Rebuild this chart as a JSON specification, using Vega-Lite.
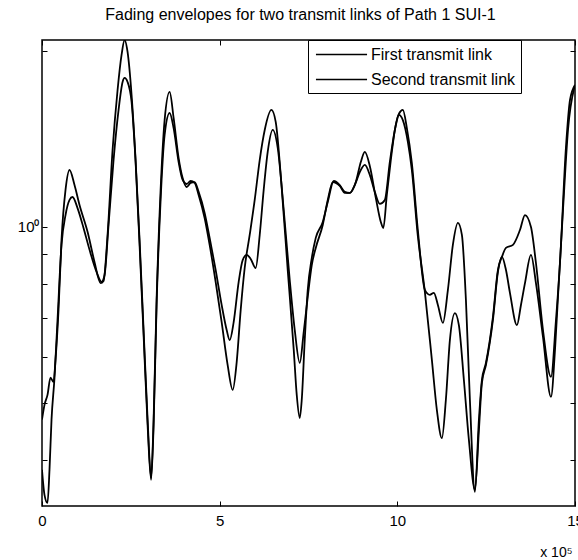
{
  "$schema": "https://vega.github.io/schema/vega-lite/v6.json",
  "width": 533,
  "height": 466,
  "autosize": {"type": "none"},
  "padding": {"left": 42, "top": 40, "right": 3, "bottom": 54},
  "background": "white",
  "config": {
    "font": "Liberation Sans",
    "view": {"stroke": "black", "strokeWidth": 1.5},
    "axis": {"grid": false, "domain": false, "tickColor": "black", "labelColor": "black", "titleColor": "black", "labelFont": "Liberation Sans", "titleFont": "Liberation Sans"}
  },
  "title": {
    "text": "Fading envelopes for two transmit links of Path 1 SUI-1",
    "fontSize": 16,
    "fontWeight": "normal",
    "font": "Liberation Sans",
    "color": "black",
    "offset": 17,
    "dx": -8
  },
  "data": {
    "values": [
      {"link": "First transmit link", "t": 0.000, "env": 0.469},
      {"link": "First transmit link", "t": 0.070, "env": 0.497},
      {"link": "First transmit link", "t": 0.155, "env": 0.517},
      {"link": "First transmit link", "t": 0.239, "env": 0.553},
      {"link": "First transmit link", "t": 0.324, "env": 0.544},
      {"link": "First transmit link", "t": 0.380, "env": 0.593},
      {"link": "First transmit link", "t": 0.465, "env": 0.722},
      {"link": "First transmit link", "t": 0.549, "env": 0.950},
      {"link": "First transmit link", "t": 0.662, "env": 1.157},
      {"link": "First transmit link", "t": 0.775, "env": 1.251},
      {"link": "First transmit link", "t": 0.915, "env": 1.179},
      {"link": "First transmit link", "t": 1.056, "env": 1.090},
      {"link": "First transmit link", "t": 1.282, "env": 0.981},
      {"link": "First transmit link", "t": 1.479, "env": 0.871},
      {"link": "First transmit link", "t": 1.648, "env": 0.802},
      {"link": "First transmit link", "t": 1.732, "env": 0.809},
      {"link": "First transmit link", "t": 1.845, "env": 0.969},
      {"link": "First transmit link", "t": 1.986, "env": 1.353},
      {"link": "First transmit link", "t": 2.127, "env": 1.713},
      {"link": "First transmit link", "t": 2.239, "env": 1.966},
      {"link": "First transmit link", "t": 2.324, "env": 2.085},
      {"link": "First transmit link", "t": 2.408, "env": 1.989},
      {"link": "First transmit link", "t": 2.521, "env": 1.680},
      {"link": "First transmit link", "t": 2.634, "env": 1.301},
      {"link": "First transmit link", "t": 2.746, "env": 0.950},
      {"link": "First transmit link", "t": 2.859, "env": 0.667},
      {"link": "First transmit link", "t": 2.972, "env": 0.469},
      {"link": "First transmit link", "t": 3.070, "env": 0.373},
      {"link": "First transmit link", "t": 3.141, "env": 0.469},
      {"link": "First transmit link", "t": 3.225, "env": 0.751},
      {"link": "First transmit link", "t": 3.338, "env": 1.157},
      {"link": "First transmit link", "t": 3.451, "env": 1.522},
      {"link": "First transmit link", "t": 3.592, "env": 1.700},
      {"link": "First transmit link", "t": 3.704, "env": 1.535},
      {"link": "First transmit link", "t": 3.845, "env": 1.311},
      {"link": "First transmit link", "t": 3.958, "env": 1.212},
      {"link": "First transmit link", "t": 4.070, "env": 1.170},
      {"link": "First transmit link", "t": 4.183, "env": 1.189},
      {"link": "First transmit link", "t": 4.296, "env": 1.193},
      {"link": "First transmit link", "t": 4.408, "env": 1.148},
      {"link": "First transmit link", "t": 4.577, "env": 1.057},
      {"link": "First transmit link", "t": 4.718, "env": 0.958},
      {"link": "First transmit link", "t": 4.887, "env": 0.845},
      {"link": "First transmit link", "t": 5.056, "env": 0.736},
      {"link": "First transmit link", "t": 5.197, "env": 0.667},
      {"link": "First transmit link", "t": 5.282, "env": 0.641},
      {"link": "First transmit link", "t": 5.394, "env": 0.688},
      {"link": "First transmit link", "t": 5.535, "env": 0.806},
      {"link": "First transmit link", "t": 5.648, "env": 0.878},
      {"link": "First transmit link", "t": 5.761, "env": 0.896},
      {"link": "First transmit link", "t": 5.873, "env": 0.882},
      {"link": "First transmit link", "t": 6.014, "env": 0.851},
      {"link": "First transmit link", "t": 6.127, "env": 0.969},
      {"link": "First transmit link", "t": 6.239, "env": 1.157},
      {"link": "First transmit link", "t": 6.352, "env": 1.343},
      {"link": "First transmit link", "t": 6.493, "env": 1.464},
      {"link": "First transmit link", "t": 6.634, "env": 1.364},
      {"link": "First transmit link", "t": 6.803, "env": 1.069},
      {"link": "First transmit link", "t": 6.972, "env": 0.812},
      {"link": "First transmit link", "t": 7.113, "env": 0.667},
      {"link": "First transmit link", "t": 7.254, "env": 0.586},
      {"link": "First transmit link", "t": 7.366, "env": 0.662},
      {"link": "First transmit link", "t": 7.479, "env": 0.760},
      {"link": "First transmit link", "t": 7.592, "env": 0.861},
      {"link": "First transmit link", "t": 7.704, "env": 0.921},
      {"link": "First transmit link", "t": 7.901, "env": 1.008},
      {"link": "First transmit link", "t": 8.042, "env": 1.112},
      {"link": "First transmit link", "t": 8.183, "env": 1.193},
      {"link": "First transmit link", "t": 8.380, "env": 1.175},
      {"link": "First transmit link", "t": 8.521, "env": 1.143},
      {"link": "First transmit link", "t": 8.662, "env": 1.143},
      {"link": "First transmit link", "t": 8.803, "env": 1.179},
      {"link": "First transmit link", "t": 8.944, "env": 1.241},
      {"link": "First transmit link", "t": 9.085, "env": 1.276},
      {"link": "First transmit link", "t": 9.225, "env": 1.227},
      {"link": "First transmit link", "t": 9.366, "env": 1.148},
      {"link": "First transmit link", "t": 9.507, "env": 1.095},
      {"link": "First transmit link", "t": 9.648, "env": 1.112},
      {"link": "First transmit link", "t": 9.789, "env": 1.291},
      {"link": "First transmit link", "t": 9.930, "env": 1.464},
      {"link": "First transmit link", "t": 10.042, "env": 1.559},
      {"link": "First transmit link", "t": 10.155, "env": 1.584},
      {"link": "First transmit link", "t": 10.268, "env": 1.475},
      {"link": "First transmit link", "t": 10.408, "env": 1.286},
      {"link": "First transmit link", "t": 10.577, "env": 0.988},
      {"link": "First transmit link", "t": 10.775, "env": 0.781},
      {"link": "First transmit link", "t": 10.915, "env": 0.766},
      {"link": "First transmit link", "t": 11.028, "env": 0.772},
      {"link": "First transmit link", "t": 11.141, "env": 0.736},
      {"link": "First transmit link", "t": 11.282, "env": 0.686},
      {"link": "First transmit link", "t": 11.423, "env": 0.781},
      {"link": "First transmit link", "t": 11.563, "env": 0.932},
      {"link": "First transmit link", "t": 11.704, "env": 1.016},
      {"link": "First transmit link", "t": 11.817, "env": 0.969},
      {"link": "First transmit link", "t": 11.930, "env": 0.751},
      {"link": "First transmit link", "t": 12.042, "env": 0.507},
      {"link": "First transmit link", "t": 12.183, "env": 0.353},
      {"link": "First transmit link", "t": 12.296, "env": 0.469},
      {"link": "First transmit link", "t": 12.380, "env": 0.548},
      {"link": "First transmit link", "t": 12.493, "env": 0.586},
      {"link": "First transmit link", "t": 12.690, "env": 0.702},
      {"link": "First transmit link", "t": 12.831, "env": 0.845},
      {"link": "First transmit link", "t": 12.944, "env": 0.889},
      {"link": "First transmit link", "t": 13.056, "env": 0.921},
      {"link": "First transmit link", "t": 13.254, "env": 0.932},
      {"link": "First transmit link", "t": 13.451, "env": 0.988},
      {"link": "First transmit link", "t": 13.592, "env": 1.048},
      {"link": "First transmit link", "t": 13.761, "env": 1.000},
      {"link": "First transmit link", "t": 13.901, "env": 0.868},
      {"link": "First transmit link", "t": 14.099, "env": 0.667},
      {"link": "First transmit link", "t": 14.324, "env": 0.555},
      {"link": "First transmit link", "t": 14.465, "env": 0.694},
      {"link": "First transmit link", "t": 14.577, "env": 0.868},
      {"link": "First transmit link", "t": 14.746, "env": 1.369},
      {"link": "First transmit link", "t": 14.859, "env": 1.647},
      {"link": "First transmit link", "t": 15.000, "env": 1.747},

      {"link": "Second transmit link", "t": 0.000, "env": 0.385},
      {"link": "Second transmit link", "t": 0.070, "env": 0.349},
      {"link": "Second transmit link", "t": 0.155, "env": 0.338},
      {"link": "Second transmit link", "t": 0.211, "env": 0.385},
      {"link": "Second transmit link", "t": 0.268, "env": 0.469},
      {"link": "Second transmit link", "t": 0.352, "env": 0.553},
      {"link": "Second transmit link", "t": 0.437, "env": 0.694},
      {"link": "Second transmit link", "t": 0.549, "env": 0.932},
      {"link": "Second transmit link", "t": 0.662, "env": 1.048},
      {"link": "Second transmit link", "t": 0.775, "env": 1.112},
      {"link": "Second transmit link", "t": 0.859, "env": 1.125},
      {"link": "Second transmit link", "t": 1.000, "env": 1.077},
      {"link": "Second transmit link", "t": 1.169, "env": 0.996},
      {"link": "Second transmit link", "t": 1.338, "env": 0.914},
      {"link": "Second transmit link", "t": 1.535, "env": 0.838},
      {"link": "Second transmit link", "t": 1.676, "env": 0.806},
      {"link": "Second transmit link", "t": 1.761, "env": 0.828},
      {"link": "Second transmit link", "t": 1.873, "env": 1.008},
      {"link": "Second transmit link", "t": 2.014, "env": 1.301},
      {"link": "Second transmit link", "t": 2.155, "env": 1.584},
      {"link": "Second transmit link", "t": 2.268, "env": 1.768},
      {"link": "Second transmit link", "t": 2.324, "env": 1.796},
      {"link": "Second transmit link", "t": 2.408, "env": 1.768},
      {"link": "Second transmit link", "t": 2.521, "env": 1.634},
      {"link": "Second transmit link", "t": 2.634, "env": 1.291},
      {"link": "Second transmit link", "t": 2.746, "env": 0.932},
      {"link": "Second transmit link", "t": 2.859, "env": 0.654},
      {"link": "Second transmit link", "t": 2.972, "env": 0.459},
      {"link": "Second transmit link", "t": 3.070, "env": 0.370},
      {"link": "Second transmit link", "t": 3.141, "env": 0.459},
      {"link": "Second transmit link", "t": 3.225, "env": 0.736},
      {"link": "Second transmit link", "t": 3.338, "env": 1.112},
      {"link": "Second transmit link", "t": 3.451, "env": 1.436},
      {"link": "Second transmit link", "t": 3.592, "env": 1.565},
      {"link": "Second transmit link", "t": 3.704, "env": 1.475},
      {"link": "Second transmit link", "t": 3.845, "env": 1.291},
      {"link": "Second transmit link", "t": 3.958, "env": 1.203},
      {"link": "Second transmit link", "t": 4.070, "env": 1.184},
      {"link": "Second transmit link", "t": 4.183, "env": 1.198},
      {"link": "Second transmit link", "t": 4.296, "env": 1.189},
      {"link": "Second transmit link", "t": 4.408, "env": 1.134},
      {"link": "Second transmit link", "t": 4.577, "env": 1.036},
      {"link": "Second transmit link", "t": 4.718, "env": 0.932},
      {"link": "Second transmit link", "t": 4.887, "env": 0.806},
      {"link": "Second transmit link", "t": 5.056, "env": 0.688},
      {"link": "Second transmit link", "t": 5.225, "env": 0.581},
      {"link": "Second transmit link", "t": 5.366, "env": 0.527},
      {"link": "Second transmit link", "t": 5.479, "env": 0.588},
      {"link": "Second transmit link", "t": 5.592, "env": 0.722},
      {"link": "Second transmit link", "t": 5.704, "env": 0.851},
      {"link": "Second transmit link", "t": 5.845, "env": 0.969},
      {"link": "Second transmit link", "t": 5.986, "env": 1.112},
      {"link": "Second transmit link", "t": 6.127, "env": 1.301},
      {"link": "Second transmit link", "t": 6.268, "env": 1.464},
      {"link": "Second transmit link", "t": 6.456, "env": 1.584},
      {"link": "Second transmit link", "t": 6.577, "env": 1.511},
      {"link": "Second transmit link", "t": 6.746, "env": 1.166},
      {"link": "Second transmit link", "t": 6.915, "env": 0.845},
      {"link": "Second transmit link", "t": 7.085, "env": 0.617},
      {"link": "Second transmit link", "t": 7.169, "env": 0.517},
      {"link": "Second transmit link", "t": 7.254, "env": 0.472},
      {"link": "Second transmit link", "t": 7.310, "env": 0.507},
      {"link": "Second transmit link", "t": 7.394, "env": 0.641},
      {"link": "Second transmit link", "t": 7.479, "env": 0.781},
      {"link": "Second transmit link", "t": 7.592, "env": 0.885},
      {"link": "Second transmit link", "t": 7.704, "env": 0.958},
      {"link": "Second transmit link", "t": 7.901, "env": 1.020},
      {"link": "Second transmit link", "t": 8.042, "env": 1.103},
      {"link": "Second transmit link", "t": 8.211, "env": 1.198},
      {"link": "Second transmit link", "t": 8.380, "env": 1.179},
      {"link": "Second transmit link", "t": 8.521, "env": 1.148},
      {"link": "Second transmit link", "t": 8.662, "env": 1.143},
      {"link": "Second transmit link", "t": 8.831, "env": 1.193},
      {"link": "Second transmit link", "t": 8.972, "env": 1.291},
      {"link": "Second transmit link", "t": 9.085, "env": 1.343},
      {"link": "Second transmit link", "t": 9.225, "env": 1.271},
      {"link": "Second transmit link", "t": 9.394, "env": 1.121},
      {"link": "Second transmit link", "t": 9.535, "env": 1.020},
      {"link": "Second transmit link", "t": 9.606, "env": 0.996},
      {"link": "Second transmit link", "t": 9.704, "env": 1.134},
      {"link": "Second transmit link", "t": 9.817, "env": 1.301},
      {"link": "Second transmit link", "t": 9.930, "env": 1.464},
      {"link": "Second transmit link", "t": 10.042, "env": 1.553},
      {"link": "Second transmit link", "t": 10.155, "env": 1.522},
      {"link": "Second transmit link", "t": 10.296, "env": 1.397},
      {"link": "Second transmit link", "t": 10.408, "env": 1.251},
      {"link": "Second transmit link", "t": 10.577, "env": 0.965},
      {"link": "Second transmit link", "t": 10.775, "env": 0.775},
      {"link": "Second transmit link", "t": 10.972, "env": 0.593},
      {"link": "Second transmit link", "t": 11.113, "env": 0.487},
      {"link": "Second transmit link", "t": 11.254, "env": 0.436},
      {"link": "Second transmit link", "t": 11.366, "env": 0.507},
      {"link": "Second transmit link", "t": 11.479, "env": 0.641},
      {"link": "Second transmit link", "t": 11.620, "env": 0.713},
      {"link": "Second transmit link", "t": 11.732, "env": 0.680},
      {"link": "Second transmit link", "t": 11.873, "env": 0.548},
      {"link": "Second transmit link", "t": 12.014, "env": 0.433},
      {"link": "Second transmit link", "t": 12.183, "env": 0.356},
      {"link": "Second transmit link", "t": 12.296, "env": 0.450},
      {"link": "Second transmit link", "t": 12.380, "env": 0.542},
      {"link": "Second transmit link", "t": 12.493, "env": 0.581},
      {"link": "Second transmit link", "t": 12.690, "env": 0.694},
      {"link": "Second transmit link", "t": 12.831, "env": 0.838},
      {"link": "Second transmit link", "t": 12.944, "env": 0.889},
      {"link": "Second transmit link", "t": 13.056, "env": 0.845},
      {"link": "Second transmit link", "t": 13.169, "env": 0.772},
      {"link": "Second transmit link", "t": 13.366, "env": 0.680},
      {"link": "Second transmit link", "t": 13.479, "env": 0.736},
      {"link": "Second transmit link", "t": 13.592, "env": 0.802},
      {"link": "Second transmit link", "t": 13.761, "env": 0.896},
      {"link": "Second transmit link", "t": 13.901, "env": 0.802},
      {"link": "Second transmit link", "t": 14.099, "env": 0.649},
      {"link": "Second transmit link", "t": 14.324, "env": 0.513},
      {"link": "Second transmit link", "t": 14.437, "env": 0.617},
      {"link": "Second transmit link", "t": 14.521, "env": 0.760},
      {"link": "Second transmit link", "t": 14.662, "env": 1.069},
      {"link": "Second transmit link", "t": 14.803, "env": 1.464},
      {"link": "Second transmit link", "t": 15.000, "env": 1.747}
    ]
  },
  "layer": [
    {
      "mark": {"type": "line", "strokeWidth": 1.8, "interpolate": "monotone", "clip": true},
      "encoding": {
        "x": {
          "field": "t", "type": "quantitative",
          "scale": {"domain": [0, 15], "nice": false, "zero": false},
          "axis": {
            "orient": "bottom", "values": [0, 5, 10, 15], "format": "d",
            "tickSize": -5, "labelPadding": 12, "labelFontSize": 15, "labelFlush": false,
            "title": "x 10⁵", "titleFontSize": 14, "titleFontWeight": "normal",
            "titleX": 530, "titleY": 50, "titleAlign": "right", "titleBaseline": "alphabetic"
          }
        },
        "y": {
          "field": "env", "type": "quantitative",
          "scale": {"type": "log", "domain": [0.334, 2.085], "nice": false, "zero": false},
          "axis": {
            "orient": "left", "values": [0.4, 0.5, 0.6, 0.7, 0.8, 0.9, 1, 2],
            "labelExpr": "datum.value == 1 ? '10⁰' : ''",
            "tickSize": -5, "labelPadding": 8, "labelFontSize": 15,
            "title": null
          }
        },
        "color": {
          "field": "link", "type": "nominal",
          "scale": {"range": ["black", "black"]},
          "legend": {
            "title": null, "orient": "none", "legendX": 266, "legendY": 0,
            "direction": "vertical",
            "strokeColor": "black", "fillColor": "white", "padding": 5,
            "symbolType": "M-3,0H3", "symbolSize": 290, "symbolStrokeWidth": 1.5,
            "symbolStrokeColor": "black", "symbolOffset": 19,
            "labelFontSize": 16, "labelColor": "black", "labelFont": "Liberation Sans",
            "rowPadding": 7, "labelOffset": 20
          }
        }
      }
    },
    {
      "mark": {"type": "line", "strokeOpacity": 0},
      "encoding": {
        "x": {
          "field": "t", "type": "quantitative",
          "scale": {"domain": [0, 15], "nice": false, "zero": false},
          "axis": {"orient": "top", "values": [0, 5, 10, 15], "tickSize": -5, "labels": false, "title": null}
        },
        "y": {
          "field": "env", "type": "quantitative",
          "scale": {"type": "log", "domain": [0.334, 2.085], "nice": false, "zero": false},
          "axis": {"orient": "right", "values": [0.4, 0.5, 0.6, 0.7, 0.8, 0.9, 1, 2], "tickSize": -5, "labels": false, "title": null}
        }
      }
    }
  ],
  "resolve": {
    "scale": {"x": "independent", "y": "independent"},
    "axis": {"x": "independent", "y": "independent"}
  }
}
